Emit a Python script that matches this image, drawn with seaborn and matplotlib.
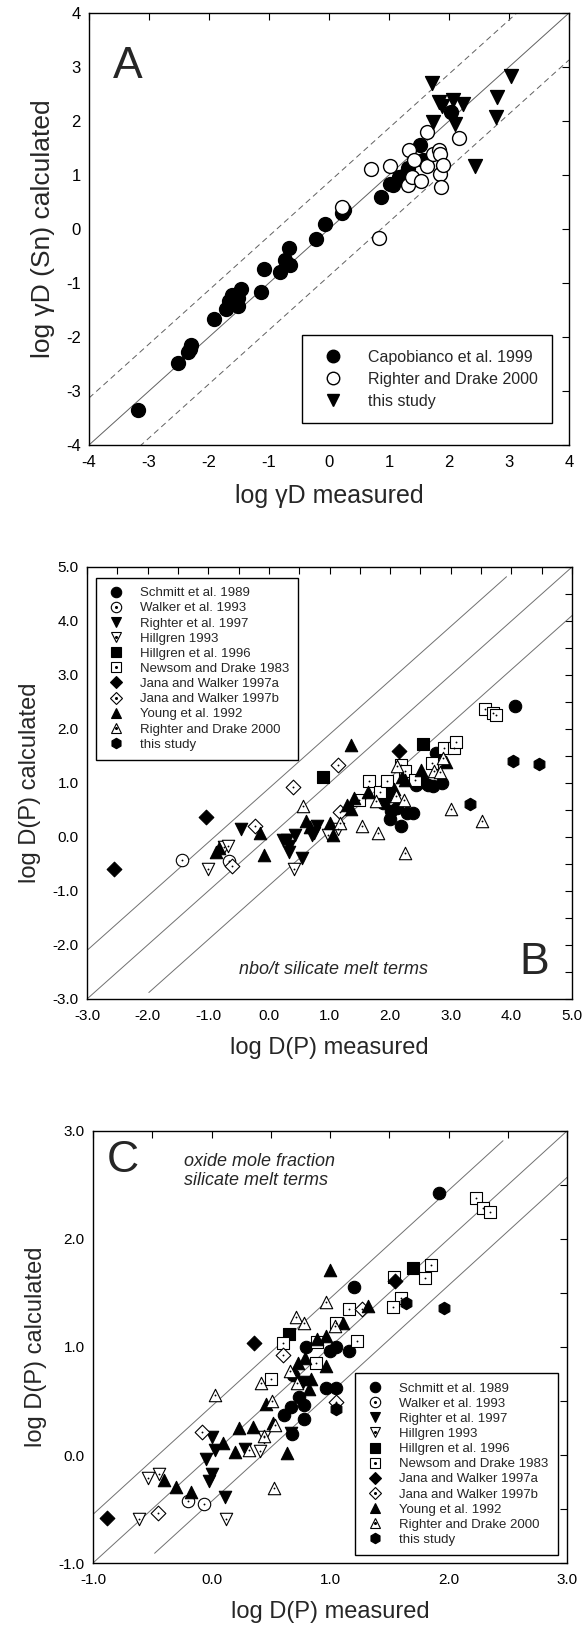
import numpy as np
import pandas as pd
import matplotlib
matplotlib.use("Agg")
import matplotlib.pyplot as plt
import seaborn as sns
from matplotlib.lines import Line2D
from matplotlib.ticker import MultipleLocator, FormatStrFormatter

# ---- Panel A data: log gammaD measured vs calculated (Sn)
capo_x = [-3.19, -2.51, -2.35, -2.30, -2.31, -1.92, -1.72, -1.66, -1.61, -1.52, -1.46, -1.52,
          -1.14, -1.08, -0.81, -0.73, -0.67, -0.65, -0.21, -0.06, 0.22, 0.25, 0.86, 1.01,
          1.06, 1.17, 1.24, 1.32, 1.51, 1.57, 2.03]
capo_y = [-3.36, -2.48, -2.28, -2.14, -2.22, -1.66, -1.48, -1.34, -1.22, -1.43, -1.11, -1.28,
          -1.17, -0.75, -0.80, -0.58, -0.35, -0.67, -0.18, 0.09, 0.30, 0.35, 0.59, 0.83,
          0.82, 0.97, 0.99, 1.13, 1.55, 1.27, 2.17]
rd2000a_x = [0.22, 0.70, 0.84, 1.01, 1.34, 1.41, 1.32, 1.39, 1.54, 1.64, 1.64, 1.73, 1.84,
             1.85, 1.85, 1.87, 1.90, 2.16]
rd2000a_y = [0.41, 1.11, -0.17, 1.17, 1.46, 1.28, 0.82, 0.96, 0.88, 1.80, 1.16, 1.38, 1.47,
             1.38, 1.02, 0.78, 1.18, 1.68]
studya_x = [1.72, 1.73, 1.84, 1.89, 2.07, 2.10, 2.24, 2.44, 2.80, 2.78, 3.04]
studya_y = [2.70, 1.99, 2.36, 2.28, 2.38, 1.95, 2.31, 1.17, 2.44, 2.07, 2.83]

# ---- Panel B data: nbo/t model
b_data = {
    "Schmitt et al. 1989": ([4.06, 2.76, 2.43, 2.62, 2.71, 2.86, 2.28, 2.37, 2.18, 2.00, 2.02, 2.12, 1.88, 1.94, 1.97, 2.55],
                            [2.43, 1.56, 0.97, 0.97, 0.95, 1.00, 0.44, 0.44, 0.21, 0.33, 0.48, 0.54, 0.63, 0.75, 0.86, 1.02]),
    "Walker et al. 1993": ([-1.43, -0.66], [-0.43, -0.44]),
    "Righter et al. 1997": ([-0.46, 0.23, 0.34, 0.34, 0.43, 0.54, 0.74, 0.79, 0.71, 0.30],
                            [0.15, -0.05, -0.17, -0.27, 0.04, -0.39, 0.07, 0.20, 0.04, -0.05]),
    "Hillgren 1993": ([-1.00, -0.74, -0.68, 0.42, 0.97, 1.14], [-0.59, -0.19, -0.17, -0.59, 0.04, 0.14]),
    "Hillgren et al. 1996": ([0.90, 2.54], [1.11, 1.72]),
    "Newsom and Drake 1983": ([1.65, 1.83, 1.95, 2.18, 2.25, 2.41, 2.69, 2.89, 3.05, 3.08, 3.57, 3.69, 3.74, 1.49],
                              [1.04, 0.83, 1.04, 1.34, 1.23, 1.06, 1.37, 1.64, 1.64, 1.75, 2.37, 2.29, 2.25, 0.69]),
    "Jana and Walker 1997a": ([-2.56, -1.04, 2.14], [-0.59, 0.37, 1.59]),
    "Jana and Walker 1997b": ([-0.23, -0.61, 0.40, 1.14, 1.17], [0.21, -0.53, 0.93, 1.34, 0.46]),
    "Young et al. 1992": ([-0.88, -0.14, -0.08, 0.62, 1.00, 1.05, 1.29, 1.35, 1.40, 1.64, 2.20, 2.25, 2.51, 2.92, 1.35, 2.06, -0.82, 0.68],
                          [-0.27, 0.07, -0.33, 0.29, 0.25, 0.04, 0.60, 0.52, 0.72, 0.83, 1.12, 1.06, 1.24, 1.38, 1.71, 0.88, -0.20, 0.18]),
    "Righter and Drake 2000": ([0.57, 1.18, 1.53, 1.80, 1.77, 2.10, 2.23, 2.25, 3.01, 3.52, 2.12, 2.73, 2.82, 2.87],
                               [0.57, 0.26, 0.20, 0.07, 0.66, 0.75, 0.68, -0.30, 0.51, 0.29, 1.31, 1.22, 1.20, 1.46]),
    "this study": ([4.02, 4.45, 3.31], [1.40, 1.35, 0.61]),
}

# ---- Panel C data: oxide mole fraction model
c_data = {
    "Schmitt et al. 1989": ([1.92, 1.20, 0.80, 1.00, 1.05, 1.16, 0.69, 0.74, 0.78, 0.67, 0.78, 0.68, 0.61, 0.97, 1.05],
                            [2.43, 1.56, 1.00, 0.96, 1.00, 0.96, 0.74, 0.54, 0.46, 0.44, 0.33, 0.19, 0.37, 0.62, 0.62]),
    "Walker et al. 1993": ([-0.20, -0.06], [-0.43, -0.45]),
    "Righter et al. 1997": ([0.00, -0.05, 0.00, -0.02, 0.11, 0.03, 0.28, 0.67, 0.77],
                            [0.17, -0.04, -0.18, -0.24, -0.39, 0.05, 0.06, 0.20, 0.68]),
    "Hillgren 1993": ([-0.61, -0.54, -0.44, 0.12, 0.41, 0.44], [-0.59, -0.21, -0.18, -0.59, 0.04, 0.17]),
    "Hillgren et al. 1996": ([0.65, 1.70], [1.12, 1.73]),
    "Newsom and Drake 1983": ([0.60, 0.50, 0.88, 0.89, 1.05, 1.16, 1.23, 1.54, 1.60, 1.53, 1.80, 1.85, 2.23, 2.29, 2.35],
                              [1.04, 0.70, 0.85, 1.05, 1.22, 1.35, 1.06, 1.65, 1.45, 1.37, 1.64, 1.76, 2.38, 2.29, 2.25]),
    "Jana and Walker 1997a": ([-0.88, 0.36, 1.55], [-0.58, 1.04, 1.61]),
    "Jana and Walker 1997b": ([-0.45, -0.08, 0.60, 1.27, 1.05], [-0.54, 0.21, 0.93, 1.35, 0.49]),
    "Young et al. 1992": ([-0.40, -0.30, -0.17, 0.10, 0.20, 0.23, 0.35, 0.46, 0.52, 0.64, 0.73, 0.79, 0.84, 0.82,
                           0.97, 0.89, 0.97, 1.11, 1.32, 1.00],
                          [-0.23, -0.30, -0.34, 0.11, 0.03, 0.25, 0.26, 0.47, 0.30, 0.02, 0.85, 0.90, 0.70, 0.61,
                           0.82, 1.07, 1.10, 1.22, 1.38, 1.71]),
    "Righter and Drake 2000": ([0.03, 0.42, 0.51, 0.54, 0.44, 0.32, 0.53, 0.71, 0.78, 0.72, 0.97, 1.04, 0.66],
                               [0.56, 0.67, 0.50, 0.28, 0.18, 0.05, -0.31, 1.28, 1.22, 0.67, 1.42, 1.19, 0.78]),
    "this study": ([1.64, 1.96, 1.05], [1.41, 1.36, 0.43]),
}

# marker style per source: (marker, filled, center dot)
styles = {
    "Schmitt et al. 1989": ("o", True, False),
    "Walker et al. 1993": ("o", False, True),
    "Righter et al. 1997": ("v", True, False),
    "Hillgren 1993": ("v", False, True),
    "Hillgren et al. 1996": ("s", True, False),
    "Newsom and Drake 1983": ("s", False, True),
    "Jana and Walker 1997a": ("D", True, False),
    "Jana and Walker 1997b": ("D", False, True),
    "Young et al. 1992": ("^", True, False),
    "Righter and Drake 2000": ("^", False, True),
    "this study": ("h", True, False),
}

sns.set_theme(style="white")
plt.rcParams["font.family"] = ["Liberation Sans", "DejaVu Sans"]
plt.rcParams["axes.unicode_minus"] = False

fig = plt.figure(figsize=(5.86, 16.35), dpi=100)
W, H = 586, 1635


def add_ax(left, right, top, bottom):
    return fig.add_axes([left / W, 1 - bottom / H, (right - left) / W, (bottom - top) / H])


def style_axes(ax, minor):
    for sp in ax.spines.values():
        sp.set_color("black")
        sp.set_linewidth(1.0)
    ax.tick_params(which="both", direction="in", top=True, right=True, colors="black",
                   labelsize=11, width=0.8, length=5)
    if minor:
        ax.xaxis.set_minor_locator(MultipleLocator(0.5))
        ax.yaxis.set_minor_locator(MultipleLocator(0.5))
    ax.tick_params(axis="x", pad=7)
    ax.tick_params(axis="y", pad=6)


def draw_sources(ax, data, size):
    handles = []
    for name, (xs, ys) in data.items():
        mk, filled, dot = styles[name]
        df = pd.DataFrame({"x": xs, "y": ys})
        s = size * (0.7 if mk == "D" else 1.0)
        sns.scatterplot(data=df, x="x", y="y", ax=ax, marker=mk, s=s,
                        color="black" if filled else "white", edgecolor="black",
                        linewidth=0.8, zorder=3, legend=False)
        h = Line2D([], [], ls="none", marker=mk, markersize=7.5 if mk != "D" else 6.5,
                   markerfacecolor="black" if filled else "white",
                   markeredgecolor="black", markeredgewidth=0.8)
        if dot:
            sns.scatterplot(data=df, x="x", y="y", ax=ax, marker="o", s=1.8,
                            color="black", linewidth=0, zorder=4, legend=False)
            h = (h, Line2D([], [], ls="none", marker="o", markersize=1.2, color="black"))
        handles.append(h)
    return handles


# ---------------- Panel A ----------------
axA = add_ax(89, 569, 13, 445)
lims = np.array([-4, 4])
axA.plot(lims, lims, color="#606060", lw=0.7, zorder=1)
axA.plot(lims, lims + 0.87, color="#606060", lw=0.7, ls=(0, (6, 4)), zorder=1)
axA.plot(lims, lims - 0.87, color="#606060", lw=0.7, ls=(0, (6, 4)), zorder=1)
for xs, ys, mk, fc in [(capo_x, capo_y, "o", "black"), (rd2000a_x, rd2000a_y, "o", "white"),
                       (studya_x, studya_y, "v", "black")]:
    sns.scatterplot(x=xs, y=ys, ax=axA, marker=mk, s=100, color=fc, edgecolor="black",
                    linewidth=1.0, zorder=3, legend=False)
axA.set_xlim(-4, 4)
axA.set_ylim(-4, 4)
axA.xaxis.set_major_locator(MultipleLocator(1))
axA.yaxis.set_major_locator(MultipleLocator(1))
style_axes(axA, False)
axA.tick_params(labelsize=12)
axA.set_xlabel("log γD measured", fontsize=18, labelpad=10)
axA.set_ylabel("log γD (Sn) calculated", fontsize=19, labelpad=8)
axA.text(-3.35, 3.0, "A", fontsize=32, ha="center", va="center")
hA = [Line2D([], [], ls="none", marker="o", markersize=9, mfc="black", mec="black"),
      Line2D([], [], ls="none", marker="o", markersize=9, mfc="white", mec="black"),
      Line2D([], [], ls="none", marker="v", markersize=9, mfc="black", mec="black")]
legA = axA.legend(hA, ["Capobianco et al. 1999", "Righter and Drake 2000", "this study"],
                  loc="lower right", bbox_to_anchor=(0.965, 0.05), fontsize=11.5,
                  frameon=True, fancybox=False, edgecolor="black", framealpha=1,
                  borderpad=0.9, labelspacing=0.45, handletextpad=1.2, borderaxespad=0)
legA.get_frame().set_linewidth(1.0)

# ---------------- Panel B ----------------
axB = add_ax(87, 572, 567, 999)
axB.plot([-3, 5], [-3, 5], color="#707070", lw=0.7, zorder=1)
axB.plot([-3, 3.92], [-3 + 0.9, 3.92 + 0.9], color="#707070", lw=0.7, zorder=1)
axB.plot([-1.98, 5], [-1.98 - 0.9, 5 - 0.9], color="#707070", lw=0.7, zorder=1)
hB = draw_sources(axB, b_data, 80)
axB.set_xlim(-3, 5)
axB.set_ylim(-3, 5)
axB.xaxis.set_major_locator(MultipleLocator(1))
axB.yaxis.set_major_locator(MultipleLocator(1))
axB.xaxis.set_major_formatter(FormatStrFormatter("%.1f"))
axB.yaxis.set_major_formatter(FormatStrFormatter("%.1f"))
style_axes(axB, True)
axB.set_xlabel("log D(P) measured", fontsize=17, labelpad=10)
axB.set_ylabel("log D(P) calculated", fontsize=17, labelpad=8)
axB.text(1.07, -2.46, "nbo/t silicate melt terms", fontsize=13, style="italic",
         ha="center", va="center")
axB.text(4.37, -2.33, "B", fontsize=32, ha="center", va="center")
legB = axB.legend(hB, list(b_data.keys()), loc="upper left", bbox_to_anchor=(0.019, 0.975),
                  fontsize=9.5, frameon=True, fancybox=False, edgecolor="black", framealpha=1,
                  borderpad=0.7, labelspacing=0.22, handletextpad=1.0, borderaxespad=0,
                  handlelength=1.6)
legB.get_frame().set_linewidth(1.0)

# ---------------- Panel C ----------------
axC = add_ax(93, 567, 1131, 1563)
axC.plot([-1, 3], [-1, 3], color="#707070", lw=0.7, zorder=1)
axC.plot([-1, 2.46], [-1 + 0.45, 2.46 + 0.45], color="#707070", lw=0.7, zorder=1)
axC.plot([-0.48, 3], [-0.48 - 0.43, 3 - 0.43], color="#707070", lw=0.7, zorder=1)
hC = draw_sources(axC, c_data, 80)
axC.set_xlim(-1, 3)
axC.set_ylim(-1, 3)
axC.xaxis.set_major_locator(MultipleLocator(1))
axC.yaxis.set_major_locator(MultipleLocator(1))
axC.xaxis.set_major_formatter(FormatStrFormatter("%.1f"))
axC.yaxis.set_major_formatter(FormatStrFormatter("%.1f"))
style_axes(axC, True)
axC.set_xlabel("log D(P) measured", fontsize=17, labelpad=10)
axC.set_ylabel("log D(P) calculated", fontsize=17, labelpad=8)
axC.text(-0.75, 2.73, "C", fontsize=32, ha="center", va="center")
axC.text(-0.23, 2.63, "oxide mole fraction\nsilicate melt terms", fontsize=13,
         style="italic", ha="left", va="center", linespacing=1.1)
legC = axC.legend(hC, list(c_data.keys()), loc="lower right", bbox_to_anchor=(0.98, 0.018),
                  fontsize=9.5, frameon=True, fancybox=False, edgecolor="black", framealpha=1,
                  borderpad=0.7, labelspacing=0.22, handletextpad=1.0, borderaxespad=0,
                  handlelength=1.6)
legC.get_frame().set_linewidth(1.0)

fig.savefig("out.png", dpi=100, facecolor="white")
